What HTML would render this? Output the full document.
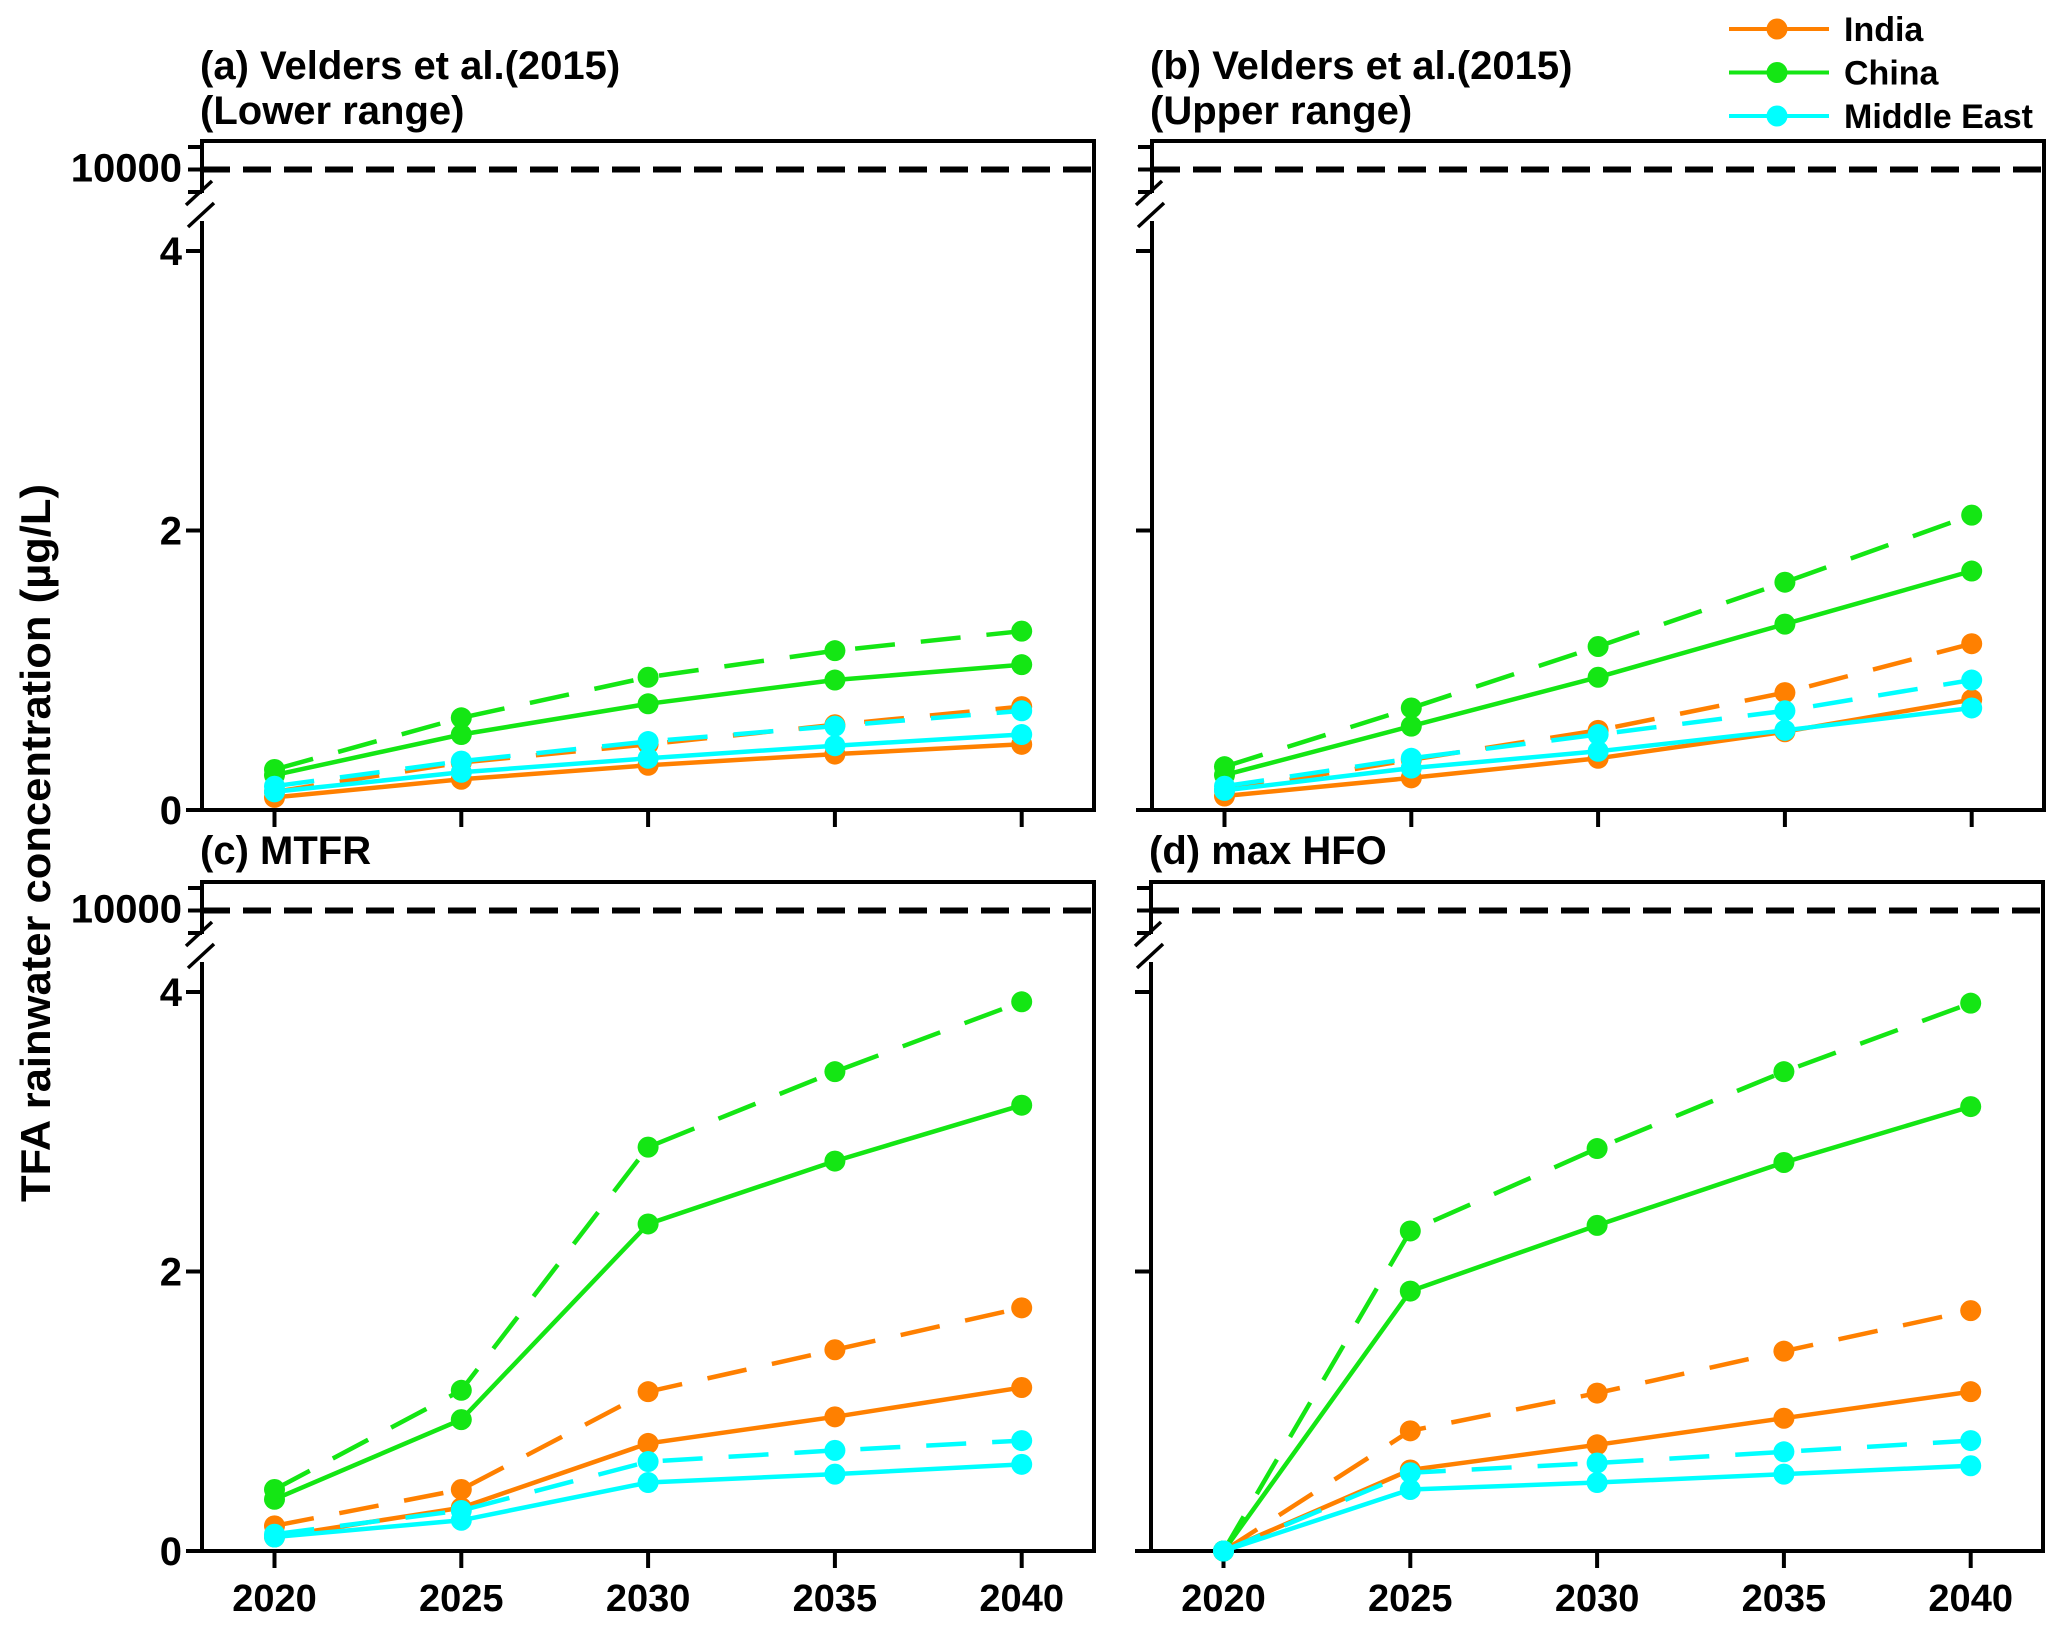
<!DOCTYPE html>
<html><head><meta charset="utf-8"><style>
html,body{margin:0;padding:0;background:#fff;}
svg{display:block;}
text{font-family:"Liberation Sans Narrow","Liberation Sans",Arial,sans-serif;font-weight:bold;fill:#000;}
</style></head><body>
<svg id="chart" width="2067" height="1631" viewBox="0 0 2067 1631" xmlns="http://www.w3.org/2000/svg"></svg>
<script>
const years = [2020, 2025, 2030, 2035, 2040];
const xTickLabels = ["2020", "2025", "2030", "2035", "2040"];
const yTickLabels = ["0", "2", "4"];
const yTickValues = [0, 2, 4];
const breakLabel = "10000";
const seriesNames = ["India", "China", "Middle East"];
const seriesColors = ["#ff8000", "#14e614", "#00ffff"];
// panel a
const aIndiaSolid = [0.09, 0.22, 0.32, 0.40, 0.47];
const aIndiaDash = [0.13, 0.34, 0.47, 0.61, 0.74];
const aChinaSolid = [0.25, 0.54, 0.76, 0.93, 1.04];
const aChinaDash = [0.29, 0.66, 0.95, 1.14, 1.28];
const aMESolid = [0.13, 0.27, 0.37, 0.46, 0.54];
const aMEDash = [0.17, 0.35, 0.49, 0.60, 0.71];
// panel b
const bIndiaSolid = [0.10, 0.23, 0.37, 0.56, 0.79];
const bIndiaDash = [0.14, 0.36, 0.57, 0.84, 1.19];
const bChinaSolid = [0.25, 0.60, 0.95, 1.33, 1.71];
const bChinaDash = [0.31, 0.73, 1.17, 1.63, 2.11];
const bMESolid = [0.14, 0.30, 0.42, 0.57, 0.73];
const bMEDash = [0.17, 0.37, 0.54, 0.71, 0.93];
// panel c
const cIndiaSolid = [0.10, 0.31, 0.77, 0.96, 1.17];
const cIndiaDash = [0.18, 0.44, 1.14, 1.44, 1.74];
const cChinaSolid = [0.37, 0.94, 2.34, 2.79, 3.19];
const cChinaDash = [0.44, 1.15, 2.89, 3.43, 3.93];
const cMESolid = [0.10, 0.22, 0.49, 0.55, 0.62];
const cMEDash = [0.12, 0.29, 0.64, 0.72, 0.79];
// panel d
const dIndiaSolid = [0, 0.58, 0.76, 0.95, 1.14];
const dIndiaDash = [0, 0.86, 1.13, 1.43, 1.72];
const dChinaSolid = [0, 1.86, 2.33, 2.78, 3.18];
const dChinaDash = [0, 2.29, 2.88, 3.43, 3.92];
const dMESolid = [0, 0.44, 0.49, 0.55, 0.61];
const dMEDash = [0, 0.56, 0.63, 0.71, 0.79];

const NS = "http://www.w3.org/2000/svg";
const svg = document.getElementById("chart");
function mk(tag, attrs, parent) {
  const e = document.createElementNS(NS, tag);
  for (const k in attrs) e.setAttribute(k, attrs[k]);
  (parent || svg).appendChild(e);
  return e;
}

const panels = [
  {id:"a", t1:"(a) Velders et al.(2015)", t2:"(Lower range)", L:202, R:1094, top:141, zero:810, labels:false,
   data:[[aIndiaSolid,aIndiaDash],[aChinaSolid,aChinaDash],[aMESolid,aMEDash]]},
  {id:"b", t1:"(b) Velders et al.(2015)", t2:"(Upper range)", L:1152, R:2044, top:141, zero:810, labels:false,
   data:[[bIndiaSolid,bIndiaDash],[bChinaSolid,bChinaDash],[bMESolid,bMEDash]]},
  {id:"c", t1:"(c) MTFR", t2:null, L:202, R:1094, top:882, zero:1551, labels:true,
   data:[[cIndiaSolid,cIndiaDash],[cChinaSolid,cChinaDash],[cMESolid,cMEDash]]},
  {id:"d", t1:"(d) max HFO", t2:null, L:1151, R:2043, top:882, zero:1551, labels:true,
   data:[[dIndiaSolid,dIndiaDash],[dChinaSolid,dChinaDash],[dMESolid,dMEDash]]}
];

panels.forEach(p => {
  const g = mk("g", {});
  
  
  const unit = 139.75;
  const xS = yr => p.L + 72.5 + (yr - 2020) / 5 * 186.8;
  const yS = v => p.zero - v * unit;
  const breakY = p.top + 28.5;
  const t = mk("text", {x:p.L - 2, y: p.t2 ? p.top - 62 : p.top - 18, "font-size":40}, g);
  t.textContent = p.t1;
  
  
  if (p.t2) {
    const t2 = mk("text", {x:p.L - 2, y:p.top - 17, "font-size":40}, g);
    t2.textContent = p.t2;
    
    
  }
  mk("path", {d:`M${p.L},${p.top} H${p.R} V${p.zero}`, fill:"none", stroke:"#000", "stroke-width":4}, g);
  const xa = mk("line", {x1:p.L - 12, y1:p.zero, x2:p.R + 2, y2:p.zero, stroke:"#000", "stroke-width":4}, g);
  
  
  const ya = mk("path", {d:`M${p.L},${p.top - 2} V${p.top + 52} M${p.L},${p.top + 80} V${p.zero}`, fill:"none", stroke:"#000", "stroke-width":4}, g);
  
  
  mk("path", {d:`M${p.L - 16},${p.top + 64} L${p.L + 10},${p.top + 40} M${p.L - 14},${p.top + 86} L${p.L + 12},${p.top + 62}`, fill:"none", stroke:"#000", "stroke-width":3.5}, g);
  mk("path", {d:`M${p.L - 14},${p.top + 6} H${p.L} M${p.L - 14},${breakY} H${p.L} M${p.L - 14},${p.top + 51} H${p.L}`, stroke:"#000", "stroke-width":4}, g);
  const th = mk("line", {x1:p.L, y1:breakY, x2:p.R, y2:breakY, stroke:"#000", "stroke-width":6, "stroke-dasharray":"28 13"}, g);
  
  
  if (p.L < 500) {
    const bl = mk("text", {x:p.L - 20, y:breakY + 12, "font-size":40, "text-anchor":"end"}, g);
    bl.textContent = breakLabel;
    
    
  }
  yTickValues.forEach((v, i) => {
    mk("line", {x1:p.L - 16, y1:yS(v), x2:p.L, y2:yS(v), stroke:"#000", "stroke-width":4}, g);
    if (p.L < 500) {
      const tl = mk("text", {x:p.L - 20, y:yS(v) + 14, "font-size":40, "text-anchor":"end"}, g);
      tl.textContent = yTickLabels[i];
      
      
    }
  });
  years.forEach((yr, i) => {
    mk("line", {x1:xS(yr), y1:p.zero, x2:xS(yr), y2:p.zero + 17, stroke:"#000", "stroke-width":4}, g);
    if (p.labels) {
      const xl = mk("text", {x:xS(yr), y:p.zero + 60, "font-size":38, "text-anchor":"middle"}, g);
      xl.textContent = xTickLabels[i];
      
      
    }
  });
  p.data.forEach((pair, si) => {
    pair.forEach((vals, di) => {
      const pts = vals.map((v, k) => `${xS(years[k]).toFixed(1)},${yS(v).toFixed(1)}`).join(" ");
      const line = mk("polyline", {points:pts, fill:"none", stroke:seriesColors[si], "stroke-width":4.5, "stroke-dasharray": di ? "40 26" : "none"}, g);
      
      
      vals.forEach((v, k) => {
        const c = mk("circle", {cx:xS(years[k]), cy:yS(v), r:10.5, fill:seriesColors[si]}, g);
        
        
      });
    });
  });
});

const yt = mk("text", {x:0, y:0, "font-size":42, "text-anchor":"middle", textLength:718, lengthAdjust:"spacingAndGlyphs", transform:"translate(50,843) rotate(-90)", style:"font-family:'Liberation Sans',Arial,sans-serif"});
yt.textContent = "TFA rainwater concentration (µg/L)";



const lg = mk("g", {});


seriesNames.forEach((n, i) => {
  const y = 29 + i * 43.5;
  const ent = mk("g", {}, lg);
  
  
  mk("line", {x1:1729, y1:y, x2:1829, y2:y, stroke:seriesColors[i], "stroke-width":4}, ent);
  mk("circle", {cx:1777, cy:y, r:10.5, fill:seriesColors[i]}, ent);
  const tx = mk("text", {x:1844, y:y + 12, "font-size":34, style:"font-family:'Liberation Sans',Arial,sans-serif"}, ent);
  tx.textContent = n;
});
</script>
</body></html>
